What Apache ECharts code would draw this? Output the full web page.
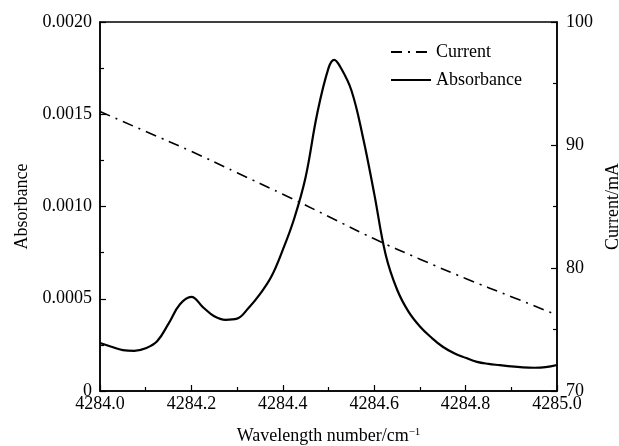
<!DOCTYPE html>
<html>
<head>
<meta charset="utf-8">
<script src="https://cdn.jsdelivr.net/npm/echarts@6/dist/echarts.min.js"></script>
<style>
  html, body { margin: 0; padding: 0; background: #fff; }
  #chart { width: 619px; height: 446px; }
</style>
</head>
<body>
<div id="chart"></div>
<script>
// absorbance read every 0.025 cm-1, plus the top of the peak
const absWave = [4284.0, 4284.025, 4284.05, 4284.075, 4284.1, 4284.125, 4284.15, 4284.175, 4284.2,
  4284.225, 4284.25, 4284.275, 4284.3, 4284.325, 4284.35, 4284.375, 4284.4, 4284.425, 4284.45,
  4284.475, 4284.5, 4284.5125, 4284.525, 4284.55, 4284.575, 4284.6, 4284.625, 4284.65, 4284.675, 4284.7,
  4284.725, 4284.75, 4284.775, 4284.8, 4284.825, 4284.85, 4284.875, 4284.9, 4284.925, 4284.95,
  4284.975, 4285.0];
const absValues = [0.00026, 0.00024, 0.000222, 0.000218, 0.000232, 0.00027, 0.000365, 0.00047, 0.00051,
  0.000455, 0.000405, 0.000386, 0.000392, 0.00045, 0.000525, 0.00062, 0.000765, 0.000935, 0.00116,
  0.0015, 0.00175, 0.001795, 0.00176, 0.00163, 0.00138, 0.00107, 0.00074, 0.00055, 0.00043, 0.00035,
  0.00029, 0.00024, 0.000205, 0.00018, 0.000158, 0.000147, 0.00014, 0.000133, 0.000128, 0.000126,
  0.000129, 0.000141];

const curWave = [4284.0, 4284.1, 4284.2, 4284.3, 4284.4, 4284.5, 4284.6, 4284.7, 4284.8, 4284.9, 4285.0];
const curValues = [92.72, 91.1, 89.48, 87.74, 86.0, 84.19, 82.37, 80.72, 79.15, 77.67, 76.18];

const font = "'Liberation Serif', 'Times New Roman', serif";

const chart = echarts.init(document.getElementById("chart"));
chart.setOption({
  animation: false,
  grid: {
    left: 100, right: 62, top: 22, bottom: 55,
    outerBoundsMode: "none",
    show: true, borderColor: "#000", borderWidth: 1.5,
  },
  legend: {
    orient: "vertical",
    left: 385,
    top: 38,
    itemWidth: 40,
    itemHeight: 14,
    itemGap: 10,
    itemStyle: { opacity: 0 },
    textStyle: { fontFamily: font, fontSize: 18, color: "#000" },
    data: ["Current", "Absorbance"],
  },
  xAxis: {
    type: "value",
    min: 4284,
    max: 4285,
    interval: 0.2,
    name: "Wavelength number/cm{sup|−1}",
    nameLocation: "middle",
    nameGap: 36,
    nameTextStyle: {
      fontFamily: font, fontSize: 18, color: "#000",
      rich: { sup: { fontFamily: font, fontSize: 11, color: "#000", verticalAlign: "top", padding: [0, 0, 8, 0] } },
    },
    axisLine: { lineStyle: { color: "#000", width: 1.5 } },
    axisTick: { inside: true, length: 6, lineStyle: { color: "#000", width: 1.2 } },
    minorTick: { show: true, splitNumber: 2, length: 4, lineStyle: { color: "#000", width: 1.2 } },
    axisLabel: { fontFamily: font, fontSize: 18, color: "#000", margin: 4, formatter: v => v.toFixed(1) },
    splitLine: { show: false },
  },
  yAxis: [
    {
      type: "value",
      min: 0,
      max: 0.002,
      interval: 0.0005,
      name: "Absorbance",
      nameLocation: "middle",
      nameGap: 69,
      nameTextStyle: { fontFamily: font, fontSize: 18, color: "#000" },
      axisLine: { show: true, lineStyle: { color: "#000", width: 1.5 } },
      axisTick: { show: true, inside: true, length: 6, lineStyle: { color: "#000", width: 1.2 } },
      minorTick: { show: true, splitNumber: 2, length: 4, lineStyle: { color: "#000", width: 1.2 } },
      axisLabel: { fontFamily: font, fontSize: 18, color: "#000", margin: 8, formatter: v => (v === 0 ? "0" : v.toFixed(4)) },
      splitLine: { show: false },
    },
    {
      type: "value",
      min: 70,
      max: 100,
      interval: 10,
      name: "Current/mA",
      nameLocation: "middle",
      nameGap: 38,
      nameTextStyle: { fontFamily: font, fontSize: 18, color: "#000" },
      axisLine: { show: true, lineStyle: { color: "#000", width: 1.5 } },
      axisTick: { show: true, inside: true, length: 6, lineStyle: { color: "#000", width: 1.2 } },
      minorTick: { show: true, splitNumber: 2, length: 4, lineStyle: { color: "#000", width: 1.2 } },
      axisLabel: { fontFamily: font, fontSize: 18, color: "#000", margin: 9 },
      splitLine: { show: false },
    },
  ],
  series: [
    {
      name: "Current",
      type: "line",
      yAxisIndex: 1,
      smooth: true,
      symbol: "none",
      data: curWave.map((x, i) => [x, curValues[i]]),
      lineStyle: { color: "#000", width: 1.6, type: [11, 6, 2, 6] },
      itemStyle: { color: "#000" },
    },
    {
      name: "Absorbance",
      type: "line",
      yAxisIndex: 0,
      smooth: 0.4,
      symbol: "none",
      data: absWave.map((x, i) => [x, absValues[i]]),
      lineStyle: { color: "#000", width: 2.2 },
      itemStyle: { color: "#000" },
    },
  ],
});
</script>
</body>
</html>
